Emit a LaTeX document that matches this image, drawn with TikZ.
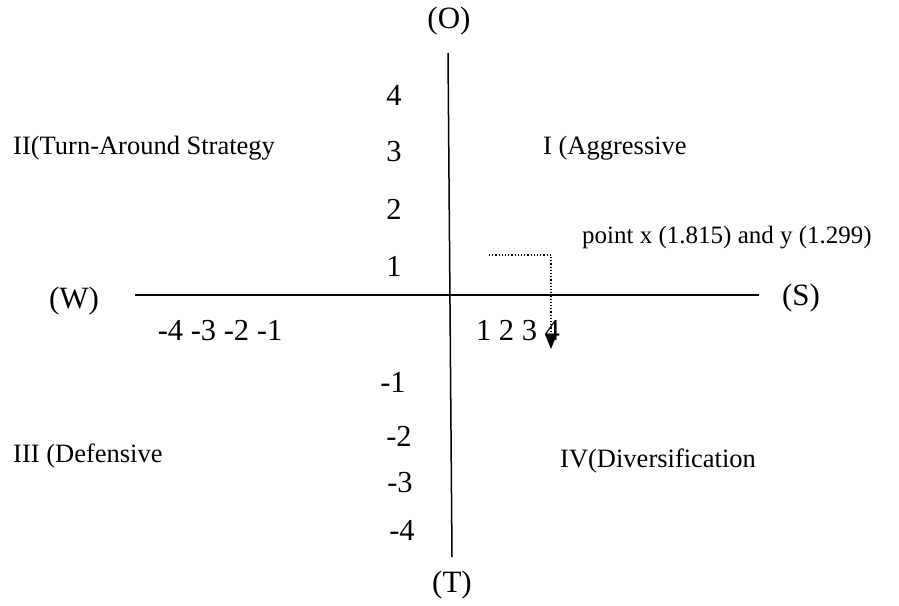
\documentclass[tikz,border=0pt]{standalone}
\usepackage{fontspec}
\setmainfont{Liberation Serif}
\usetikzlibrary{arrows.meta}
\begin{document}
\begin{tikzpicture}[x=1pt,y=-1pt,
  axis/.style={line width=1.5pt},
  big/.style={font=\fontsize{31}{33}\selectfont, inner sep=0pt},
  tick/.style={font=\fontsize{30.5}{33}\selectfont, inner sep=0pt},
  quad/.style={font=\fontsize{26.5}{29}\selectfont, inner sep=0pt, anchor=west},
  note/.style={font=\fontsize{25}{28}\selectfont, inner sep=0pt, anchor=west}]
\useasboundingbox (0,0) rectangle (899,605);
% axes
\coordinate (vt) at (448,53);
\coordinate (vb) at (452,557);
\coordinate (hl) at (135,295);
\coordinate (hr) at (759,295);
\draw[axis] (vt) -- (vb);
\draw[axis] (hl) -- (hr);
% direction labels
\node[big] (O) at (449,21) {(O)};
\node[big] (T) at (452,585) {(T)};
\node[big] (W) at (74,301) {(W)};
\node[big] (S) at (801,298) {(S)};
% y ticks
\node[tick] (y4) at (394,95) {4};
\node[tick] (y3) at (394,152) {3};
\node[tick] (y2) at (394,209) {2};
\node[tick] (y1) at (394,266) {1};
\node[tick] (ym1) at (393,382) {-1};
\node[tick] (ym2) at (399,436) {-2};
\node[tick] (ym3) at (400,483) {-3};
\node[tick] (ym4) at (402,530) {-4};
% x ticks
\node[tick] (xneg) at (220,331) {-4 -3 -2 -1};
\node[tick] (xpos) at (518,331) {1 2 3 4};
% quadrant labels
\node[quad] (q2) at (13,148) {II(Turn-Around Strategy};
\node[quad] (q1) at (543,148) {I (Aggressive};
\node[quad] (q3) at (13,456) {III (Defensive};
\node[quad] (q4) at (560,461) {IV(Diversification};
\node[note] (pt) at (582,238) {point x (1.815) and y (1.299)};
% dotted arrow
\coordinate (a0) at (489,255);
\coordinate (a1) at (551,255);
\coordinate (a2) at (551,349);
\draw[dotted, line width=1.2pt, -{Triangle[width=11pt,length=14pt]}] (a0) -- (a1) -- (a2);
\end{tikzpicture}
\end{document}
